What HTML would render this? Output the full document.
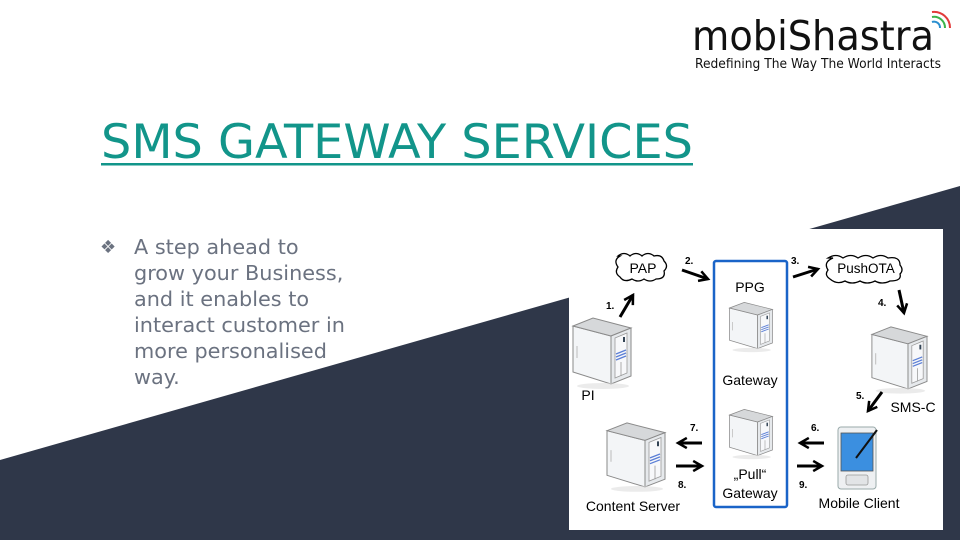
<!DOCTYPE html>
<html><head><meta charset="utf-8"><style>
html,body{margin:0;padding:0;background:#fff}
svg{display:block}
</style></head><body>
<svg width="960" height="540" viewBox="0 0 960 540" xmlns="http://www.w3.org/2000/svg" font-family="Liberation Sans, Arial, sans-serif">
<defs>
<marker id="ah" viewBox="0 0 10 10" refX="8" refY="5" markerWidth="4.2" markerHeight="4.2" orient="auto">
<path d="M1,1 L8,5 L1,9" fill="none" stroke="#000" stroke-width="2"/>
</marker>
<g id="srv">
<polygon points="2,10 40,20 40,68 2,56" fill="#f3f5f7" stroke="#8a8a8a" stroke-width="1"/>
<polygon points="2,10 22,2 60,12 40,20" fill="#d6d8da" stroke="#8a8a8a" stroke-width="1"/>
<polygon points="40,20 60,12 60,60 40,68" fill="#e6e9ec" stroke="#8a8a8a" stroke-width="1"/>
<polygon points="44,22 56,17 56,57 44,62" fill="#f7f8fa" stroke="#9a9a9a" stroke-width="0.8"/>
<line x1="45" y1="38" x2="55" y2="34" stroke="#5b7fd6" stroke-width="1.3"/>
<line x1="45" y1="41" x2="55" y2="37" stroke="#5b7fd6" stroke-width="1.3"/>
<line x1="45" y1="44" x2="55" y2="40" stroke="#5b7fd6" stroke-width="1.3"/>
<line x1="50" y1="46" x2="50" y2="60" stroke="#999" stroke-width="0.8"/>
<rect x="52" y="21" width="2" height="5" fill="#345"/>
<line x1="6" y1="30" x2="6" y2="42" stroke="#bbb" stroke-width="1"/>
<ellipse cx="32" cy="70" rx="26" ry="3" fill="#ddd" opacity="0.6"/>
</g>
</defs>

<polygon points="0,460 960,186 960,540 0,540" fill="#2f3749"/>

<!-- logo -->
<text x="692" y="50" font-family="DejaVu Sans, sans-serif" font-size="41" fill="#111" textLength="242" lengthAdjust="spacingAndGlyphs">mobiShastra</text>
<text x="695" y="68" font-family="DejaVu Sans, sans-serif" font-size="13" fill="#111" textLength="246" lengthAdjust="spacingAndGlyphs">Redefining The Way The World Interacts</text>
<path d="M932,22 a6,6 0 0 1 8,6" fill="none" stroke="#2a8fd0" stroke-width="2"/>
<path d="M932,17 a11,11 0 0 1 13,11" fill="none" stroke="#3bb34a" stroke-width="2"/>
<path d="M932,12 a16,16 0 0 1 18,16" fill="none" stroke="#e23b3b" stroke-width="2"/>

<!-- title -->
<text x="101" y="158" font-family="DejaVu Sans, sans-serif" font-size="47" fill="#12958a" textLength="592" lengthAdjust="spacingAndGlyphs">SMS GATEWAY SERVICES</text>
<rect x="101" y="163" width="592" height="2.5" fill="#12958a"/>

<!-- bullet -->
<g font-family="DejaVu Sans, sans-serif" font-size="20.8" fill="#6b7280">
<text x="100" y="253" font-size="18">❖</text>
<text x="134" y="254">A step ahead to</text>
<text x="134" y="280">grow your Business,</text>
<text x="134" y="306">and it enables to</text>
<text x="134" y="332">interact customer in</text>
<text x="134" y="358">more personalised</text>
<text x="134" y="384">way.</text>
</g>

<!-- diagram -->
<rect x="569" y="229" width="374" height="301" fill="#fff"/>
<rect x="714" y="261" width="73" height="246" fill="none" stroke="#1a64c8" stroke-width="2.5" rx="2"/>

<path d="M618,256 q6,-5 12,0 q6,-5 12,0 q6,-5 12,0 q8,-2 10,5 q5,5 0,10 q2,8 -8,8 q-6,4 -12,0 q-6,4 -12,0 q-8,4 -12,-2 q-6,-4 -2,-10 q-5,-7 2,-11z" fill="#fff" stroke="#000" stroke-width="1.3"/>
<path d="M828,258 q8,-5 15,0 q8,-5 15,0 q8,-5 15,0 q8,-5 15,0 q12,-2 12,7 q4,5 0,9 q2,7 -10,7 q-8,4 -15,0 q-8,4 -15,0 q-8,4 -15,0 q-8,4 -15,-2 q-6,-4 -2,-9 q-5,-8 5,-12z" fill="#fff" stroke="#000" stroke-width="1.3"/>

<use href="#srv" transform="translate(571,316) scale(1,1)"/>
<use href="#srv" transform="translate(728,301) scale(0.74,0.7)"/>
<use href="#srv" transform="translate(870,325) scale(0.95,0.94)"/>
<use href="#srv" transform="translate(728,408) scale(0.74,0.7)"/>
<use href="#srv" transform="translate(605,421) scale(1,0.97)"/>

<!-- mobile -->
<rect x="838" y="427" width="38" height="62" rx="3" fill="#eef0f2" stroke="#9aa" stroke-width="1"/>
<rect x="841" y="433" width="32" height="38" fill="#3b8fe0" stroke="#555" stroke-width="0.8"/>
<rect x="846" y="475" width="22" height="10" rx="2" fill="#e2e4e6" stroke="#999" stroke-width="0.8"/>
<line x1="856" y1="458" x2="877" y2="430" stroke="#111" stroke-width="2"/>

<g stroke="#000" stroke-width="3" marker-end="url(#ah)">
<line x1="620" y1="317" x2="633" y2="295"/>
<line x1="682" y1="270" x2="708" y2="279"/>
<line x1="793" y1="277" x2="818" y2="269"/>
<line x1="899" y1="290" x2="904" y2="313"/>
<line x1="882" y1="392" x2="868" y2="411"/>
<line x1="824" y1="443" x2="800" y2="443"/>
<line x1="702" y1="443" x2="678" y2="443"/>
<line x1="676" y1="466" x2="702" y2="466"/>
<line x1="797" y1="466" x2="822" y2="466"/>
</g>

<g font-size="10" font-weight="bold" fill="#000">
<text x="606" y="309">1.</text>
<text x="685" y="264">2.</text>
<text x="791" y="264">3.</text>
<text x="878" y="306">4.</text>
<text x="856" y="399">5.</text>
<text x="811" y="431">6.</text>
<text x="690" y="431">7.</text>
<text x="678" y="488">8.</text>
<text x="799" y="488">9.</text>
</g>

<g font-size="14" fill="#000" text-anchor="middle">
<text x="643" y="273">PAP</text>
<text x="866" y="273" font-size="13.5">PushOTA</text>
<text x="750" y="292">PPG</text>
<text x="750" y="385">Gateway</text>
<text x="750" y="479">„Pull“</text>
<text x="750" y="498">Gateway</text>
<text x="588" y="400">PI</text>
<text x="913" y="412">SMS-C</text>
<text x="633" y="511">Content Server</text>
<text x="859" y="508">Mobile Client</text>
</g>
</svg>
</body></html>
